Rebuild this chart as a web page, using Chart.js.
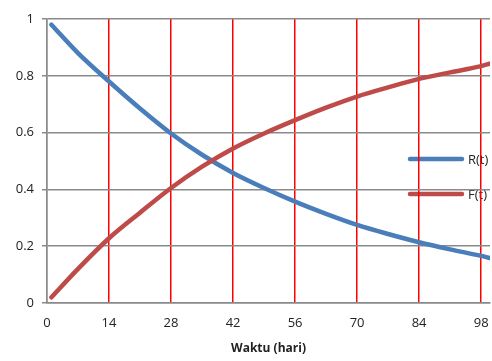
<!DOCTYPE html>
<html>
<head>
<meta charset="utf-8">
<script src="https://cdn.jsdelivr.net/npm/chart.js@4.4.1/dist/chart.umd.min.js"></script>
<style>
  html, body { margin: 0; padding: 0; background: #fff; }
  #wrap { width: 492px; height: 361px; }
</style>
</head>
<body>
<div id="wrap"><canvas id="relChart" width="492" height="361"></canvas></div>
<script>
// hari (t) and values
const days = [1, 7, 14, 21, 28, 35, 42, 49, 56, 63, 70, 77, 84, 91, 98, 100];
const rValues = [0.98, 0.88, 0.78, 0.685, 0.597, 0.522, 0.458, 0.405, 0.357, 0.314, 0.275, 0.243, 0.214, 0.189, 0.166, 0.158];
const fValues = [0.02, 0.12, 0.228, 0.318, 0.405, 0.48, 0.544, 0.597, 0.644, 0.688, 0.727, 0.759, 0.789, 0.812, 0.834, 0.843];
const xTicks = [0, 14, 28, 42, 56, 70, 84, 98];
const yTicks = [0, 0.2, 0.4, 0.6, 0.8, 1];
const seriesNames = ['R(t)', 'F(t)'];

const BLUE = '#4a7ebb';
const RED = '#be4b48';
const GRAY = '#8a8a8a';
const FONT = "'Open Sans', 'Liberation Sans', sans-serif";

// legend sits inside the plot, drawn before the grid like the original
const legendPlugin = {
    id: 'insideLegend',
    beforeDraw(chart) {
        const ctx = chart.ctx;
        const items = [
            { name: seriesNames[0], color: BLUE, y: 159 },
            { name: seriesNames[1], color: RED, y: 194 }
        ];
        ctx.save();
        items.forEach(item => {
            ctx.strokeStyle = item.color;
            ctx.lineWidth = 4.5;
            ctx.lineCap = 'round';
            ctx.beginPath();
            ctx.moveTo(410, item.y);
            ctx.lineTo(462, item.y);
            ctx.stroke();
            ctx.fillStyle = '#222';
            ctx.font = '13px ' + FONT;
            ctx.textBaseline = 'middle';
            ctx.textAlign = 'left';
            ctx.fillText(item.name, 468, item.y + 1);
        });
        ctx.restore();
    }
};

const toPoints = vals => vals.map((v, i) => ({ x: days[i], y: v }));

new Chart(document.getElementById('relChart'), {
    type: 'line',
    data: {
        datasets: [
            {
                label: seriesNames[0],
                data: toPoints(rValues),
                borderColor: BLUE,
                borderWidth: 4.5,
                borderCapStyle: 'round',
                pointRadius: 0,
                cubicInterpolationMode: 'monotone',
                order: 2
            },
            {
                label: seriesNames[1],
                data: toPoints(fValues),
                borderColor: RED,
                borderWidth: 4.5,
                borderCapStyle: 'round',
                pointRadius: 0,
                cubicInterpolationMode: 'monotone',
                order: 1
            }
        ]
    },
    options: {
        responsive: false,
        animation: false,
        layout: { padding: { top: 19, right: 2, left: 0, bottom: 0 } },
        plugins: {
            legend: { display: false },
            tooltip: { enabled: false }
        },
        scales: {
            x: {
                type: 'linear',
                min: 0,
                max: 100,
                afterBuildTicks: scale => {
                    scale.ticks = xTicks.map(v => ({ value: v }));
                },
                afterFit: scale => {
                    scale.height = 58;
                    scale.paddingLeft = 0;
                    scale.paddingRight = 0;
                },
                grid: {
                    drawTicks: false,
                    lineWidth: 1.5,
                    color: c => (c.tick && c.tick.value === 0 ? GRAY : '#ff0000')
                },
                border: { color: GRAY, width: 1.5 },
                ticks: {
                    padding: 12,
                    color: '#222',
                    font: { family: FONT, size: 13 },
                    maxRotation: 0,
                    autoSkip: false
                },
                title: {
                    display: true,
                    text: 'Waktu (hari)',
                    color: '#222',
                    font: { family: FONT, size: 12, weight: 'bold' },
                    padding: { top: 0, bottom: 5 }
                }
            },
            y: {
                min: 0,
                max: 1,
                afterBuildTicks: scale => {
                    scale.ticks = yTicks.map(v => ({ value: v }));
                },
                afterFit: scale => {
                    scale.width = 47;
                    scale.paddingTop = 0;
                    scale.paddingBottom = 0;
                },
                grid: {
                    color: GRAY,
                    lineWidth: 1.5,
                    tickLength: 5
                },
                border: { color: GRAY, width: 1.5 },
                ticks: {
                    padding: 8,
                    color: '#222',
                    font: { family: FONT, size: 13 },
                    callback: v => String(Math.round(v * 10) / 10)
                }
            }
        }
    },
    plugins: [legendPlugin]
});
</script>
</body>
</html>
